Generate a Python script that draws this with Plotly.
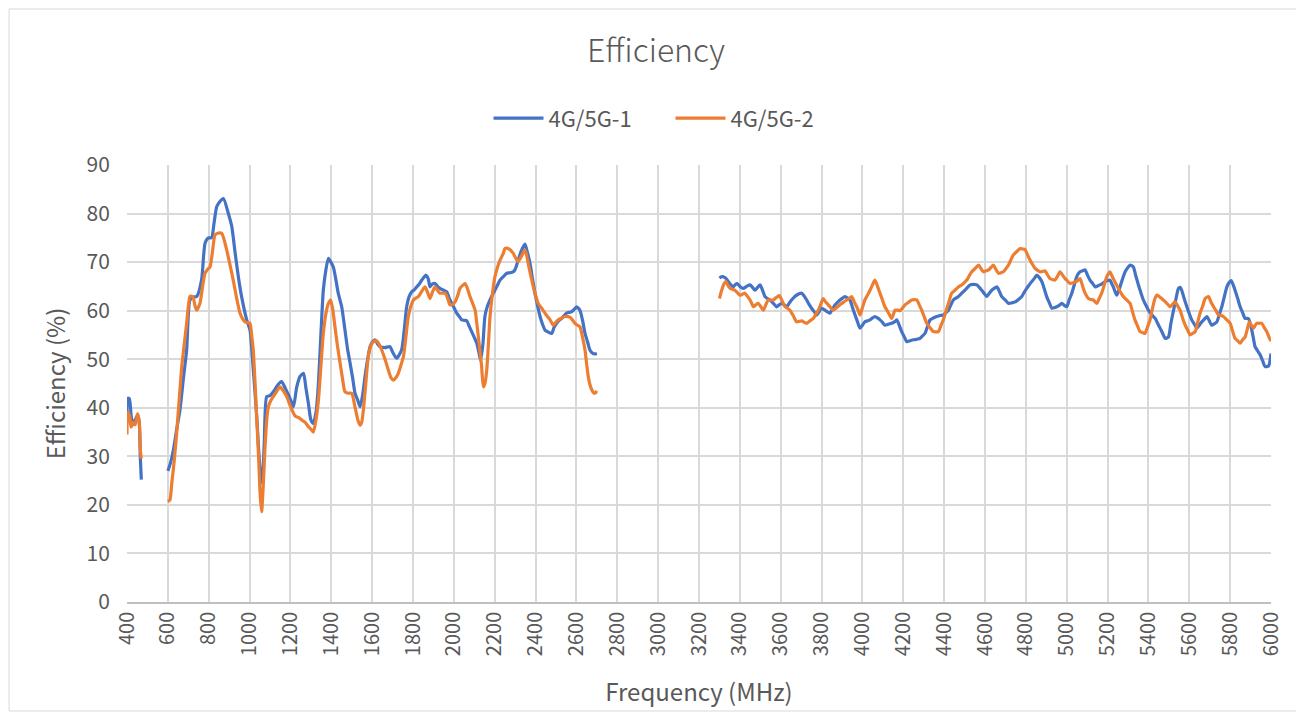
import plotly.graph_objects as go

# ---------------- data (frequency MHz, efficiency %) ----------------
series_names = ["4G/5G-1", "4G/5G-2"]

s1_low = [(400, 37), (405, 42), (412, 41.8), (420, 38.5), (428, 36.5), (440, 37.5), (452, 38.5),
          (460, 37), (465, 30), (470, 25.2)]
s1_mid = [(600, 27), (612, 28.5), (627, 31.3), (643, 35.5), (659, 39.5), (676, 46), (692, 51.9),
          (708, 62.2), (724, 62.8), (741, 62.9), (765, 66.3), (782, 73.9), (798, 75), (814, 75),
          (826, 78), (839, 81.4), (855, 82.5), (872, 83.1), (896, 80), (913, 77.3), (929, 72),
          (945, 67), (961, 62.9), (986, 58.1), (1002, 56), (1018, 48), (1035, 38.2), (1050, 28),
          (1062, 24.5), (1072, 33), (1084, 42.3), (1100, 42.5), (1120, 43.5), (1140, 44.8),
          (1157, 45.4), (1175, 44), (1190, 42.7), (1205, 41.2), (1215, 40.2), (1231, 44.3),
          (1248, 46.5), (1264, 47.1), (1276, 44), (1288, 40.9), (1300, 37.5), (1312, 36.8),
          (1325, 39), (1337, 45), (1349, 55), (1361, 64.2), (1374, 68.5), (1386, 70.8), (1398, 70),
          (1410, 69), (1422, 66.5), (1434, 63.6), (1451, 60.8), (1467, 56), (1480, 52), (1492, 49.2),
          (1505, 46), (1516, 43), (1530, 41.5), (1541, 40.2), (1553, 42.5), (1565, 46.4), (1578, 50),
          (1590, 52.6), (1602, 53.6), (1614, 54), (1626, 53.2), (1638, 52.6), (1663, 52.4),
          (1687, 52.6), (1700, 51.5), (1720, 50.2), (1744, 51.9), (1757, 56), (1769, 60.8),
          (1782, 63), (1794, 63.9), (1806, 64.3), (1818, 64.9), (1831, 65.5), (1843, 66.3),
          (1864, 67.3), (1875, 66.5), (1883, 64.9), (1895, 65.5), (1908, 65.6), (1920, 65),
          (1932, 64.6), (1950, 64.2), (1965, 63.9), (1978, 62.5), (1990, 61.5), (2002, 60.5),
          (2014, 59.5), (2027, 58.8), (2039, 58.1), (2051, 58), (2063, 57.9), (2075, 56.8),
          (2087, 55.7), (2100, 54.5), (2112, 53.3), (2122, 51.5), (2131, 49.8), (2142, 53),
          (2152, 58.8), (2165, 61), (2177, 62.2), (2189, 63.3), (2201, 64.2), (2214, 65.3),
          (2226, 66.3), (2242, 67), (2259, 67.7), (2275, 67.8), (2290, 68), (2299, 68.4),
          (2315, 70.4), (2330, 72.3), (2348, 73.7), (2360, 72), (2373, 69.7), (2385, 66.5),
          (2397, 63.6), (2410, 61), (2422, 58.8), (2434, 57.2), (2446, 56), (2462, 55.6),
          (2479, 55.3), (2490, 56.5), (2503, 57.4), (2515, 58), (2528, 58.4), (2540, 59),
          (2552, 59.5), (2577, 59.8), (2590, 60.3), (2601, 60.8), (2617, 60.1), (2630, 58),
          (2642, 55.3), (2655, 53.5), (2666, 51.9), (2680, 51.2), (2691, 51.1), (2700, 51.2)]
s1_high = [(3300, 66.7), (3310, 67), (3319, 67), (3331, 66.7), (3343, 66), (3356, 65.3), (3368, 64.9),
           (3378, 65.4), (3387, 65.6), (3400, 65), (3417, 64.6), (3433, 65), (3450, 65.3),
           (3462, 64.8), (3474, 64.2), (3487, 64.8), (3499, 65.3), (3511, 64.2), (3523, 62.9),
           (3535, 62.5), (3548, 62.2), (3564, 61.5), (3580, 60.8), (3592, 61.2), (3605, 61.5),
           (3617, 61.2), (3629, 60.8), (3641, 61.5), (3653, 62.2), (3666, 62.8), (3678, 63.2),
           (3690, 63.5), (3703, 63.6), (3715, 63), (3727, 62.2), (3739, 61.3), (3751, 60.5),
           (3764, 59.8), (3776, 59.1), (3788, 59.8), (3800, 60.5), (3820, 60), (3841, 59.5),
           (3853, 60.3), (3866, 61.2), (3878, 61.7), (3890, 62.2), (3903, 62.6), (3915, 62.9),
           (3927, 62.6), (3939, 62.2), (3951, 60.7), (3964, 59.1), (3976, 57.7), (3988, 56.4),
           (4000, 57), (4012, 57.7), (4025, 57.9), (4037, 58.1), (4049, 58.5), (4061, 58.8),
           (4074, 58.5), (4086, 58.1), (4098, 57.6), (4110, 57), (4127, 57.2), (4143, 57.4),
           (4160, 57.8), (4168, 58.1), (4180, 57), (4192, 55.7), (4205, 54.6), (4217, 53.6),
           (4233, 53.8), (4250, 54), (4266, 54.1), (4282, 54.3), (4294, 54.8), (4306, 55.3),
           (4318, 56.7), (4331, 58.1), (4347, 58.5), (4364, 58.8), (4380, 59), (4396, 59.1),
           (4408, 59.6), (4421, 60.1), (4433, 61.2), (4445, 62.2), (4458, 62.6), (4470, 62.9),
           (4482, 63.4), (4494, 63.9), (4510, 64.6), (4527, 65.3), (4543, 65.4), (4560, 65.3),
           (4572, 64.8), (4584, 64.2), (4597, 63.5), (4609, 62.9), (4621, 63.6), (4633, 64.2),
           (4645, 64.6), (4658, 64.9), (4670, 64), (4682, 62.9), (4699, 62.2), (4715, 61.5),
           (4731, 61.6), (4748, 61.8), (4764, 62.3), (4780, 62.9), (4792, 63.8), (4804, 64.6),
           (4816, 65.3), (4829, 66), (4841, 66.6), (4853, 67.3), (4866, 66.8), (4878, 66),
           (4890, 64.5), (4902, 62.9), (4914, 61.7), (4927, 60.5), (4939, 60.6), (4951, 60.8),
           (4963, 61.1), (4976, 61.5), (4988, 61.1), (5000, 60.8), (5012, 62.2), (5025, 63.6),
           (5037, 65.3), (5049, 67), (5065, 68), (5082, 68.3), (5090, 68.4), (5102, 67.3),
           (5114, 66.3), (5127, 65.6), (5139, 64.9), (5151, 65.1), (5163, 65.3), (5175, 65.6),
           (5188, 66), (5200, 66.2), (5212, 66.3), (5220, 65.6), (5228, 64.9), (5236, 64),
           (5245, 63.2), (5253, 64), (5261, 64.9), (5273, 66.5), (5286, 68), (5298, 68.8),
           (5310, 69.4), (5326, 69), (5338, 67.2), (5351, 65.3), (5363, 63.7), (5375, 62.2),
           (5388, 61.1), (5400, 60.1), (5416, 59.2), (5433, 58.4), (5445, 57.4), (5457, 56.4),
           (5470, 55.3), (5482, 54.3), (5498, 54.6), (5510, 57.4), (5523, 60.1), (5535, 62.5),
           (5547, 64.6), (5555, 64.8), (5563, 64.2), (5575, 62.5), (5588, 60.8), (5600, 59.4),
           (5612, 58.1), (5625, 57.2), (5637, 56.4), (5649, 57), (5661, 57.7), (5673, 58.2),
           (5686, 58.8), (5698, 57.9), (5710, 57), (5722, 57.3), (5735, 57.7), (5747, 59.2),
           (5759, 60.8), (5771, 62.8), (5784, 64.9), (5795, 65.8), (5805, 66.2), (5814, 65.4),
           (5824, 64.2), (5837, 62.5), (5849, 60.8), (5861, 59.6), (5873, 58.4), (5889, 58.4),
           (5898, 57.4), (5906, 56), (5914, 54.3), (5922, 52.6), (5935, 51.7), (5947, 50.9),
           (5959, 49.7), (5971, 48.5), (5988, 48.6), (6000, 51.2)]

s2_low = [(400, 34.5), (404, 39), (412, 38.5), (420, 36), (430, 37), (440, 36.5), (452, 38.8),
          (460, 37), (466, 31), (470, 29.5)]
s2_mid = [(600, 20.7), (610, 21), (619, 24.4), (631, 29), (643, 34.7), (656, 42), (668, 48.5),
          (680, 53), (692, 57.4), (708, 62.9), (716, 63), (724, 62.7), (733, 61), (741, 60.1),
          (757, 61.5), (770, 65), (782, 67.7), (794, 68.5), (806, 69), (818, 72), (831, 75.6),
          (848, 76), (864, 75.9), (876, 74.5), (888, 72.5), (904, 69.5), (920, 66.3), (937, 62.5),
          (953, 59.5), (966, 58.3), (978, 57.7), (990, 57.5), (1002, 57.4), (1010, 55), (1018, 51.9),
          (1027, 45), (1035, 38), (1045, 29), (1052, 22), (1059, 18.6), (1067, 24), (1075, 31.3),
          (1084, 37.5), (1092, 40.2), (1104, 41.5), (1116, 42.3), (1132, 43.3), (1149, 44.3),
          (1165, 43.5), (1182, 42.3), (1198, 40.5), (1215, 38.9), (1223, 38.3), (1239, 38),
          (1255, 37.5), (1272, 37), (1288, 36.1), (1300, 35.6), (1312, 35), (1325, 37.5),
          (1337, 41.6), (1349, 48.5), (1361, 55.3), (1374, 59.5), (1386, 61.5), (1397, 62.2),
          (1408, 60), (1418, 56.7), (1430, 52.8), (1443, 49.2), (1455, 46), (1467, 43.3),
          (1483, 43), (1500, 43), (1516, 40.2), (1530, 37.5), (1541, 36.4), (1549, 37),
          (1557, 39.5), (1569, 45), (1581, 50.5), (1594, 52.8), (1606, 53.6), (1622, 53.8),
          (1635, 53), (1647, 51.9), (1663, 50), (1679, 47.8), (1692, 46.2), (1704, 45.7),
          (1716, 46.2), (1728, 47.1), (1741, 48.8), (1753, 50.5), (1765, 54.5), (1777, 58.8),
          (1790, 61), (1802, 62.2), (1814, 62.6), (1826, 62.9), (1843, 64), (1859, 64.9),
          (1871, 63.8), (1883, 62.5), (1895, 63.8), (1908, 64.9), (1920, 64.2), (1932, 63.6),
          (1945, 63.6), (1957, 63.6), (1970, 62.5), (1981, 61.2), (1994, 61.3), (2006, 61.8),
          (2018, 63), (2030, 64.6), (2043, 65.2), (2055, 65.6), (2067, 64.5), (2079, 62.9),
          (2092, 61.5), (2104, 60.1), (2112, 57.5), (2120, 54.6), (2128, 51.5), (2136, 48.5),
          (2144, 44.3), (2152, 45), (2161, 47.8), (2169, 53), (2177, 58.8), (2189, 63.5),
          (2201, 67), (2214, 69), (2226, 70.4), (2242, 71.8), (2250, 72.8), (2266, 72.8),
          (2291, 71.8), (2303, 70.8), (2315, 70.1), (2332, 71.3), (2348, 72.5), (2356, 71.5),
          (2364, 69.7), (2376, 67.3), (2389, 64.9), (2401, 63), (2413, 61.5), (2430, 60.5),
          (2446, 59.5), (2458, 58.8), (2471, 58.1), (2487, 57), (2499, 57.6), (2511, 58.1),
          (2528, 58.5), (2544, 58.8), (2569, 58.6), (2593, 57.4), (2605, 57), (2617, 56.7),
          (2630, 54.5), (2642, 51.9), (2650, 49), (2658, 46.4), (2666, 44.8), (2675, 43.7),
          (2684, 43.1), (2691, 43), (2700, 43.5)]
s2_high = [(3300, 62.5), (3311, 64.2), (3322, 65.5), (3332, 66), (3342, 65.2), (3352, 64.6),
           (3364, 64.4), (3376, 64.2), (3388, 63.7), (3401, 63.2), (3413, 63.4), (3425, 63.6),
           (3438, 62.9), (3450, 62.2), (3458, 61.5), (3466, 60.8), (3478, 61.2), (3490, 61.5),
           (3503, 60.8), (3515, 60.1), (3527, 61.2), (3539, 62.2), (3552, 62.2), (3564, 62.2),
           (3578, 62.7), (3593, 63.1), (3607, 62), (3621, 60.8), (3633, 60.5), (3645, 60.1),
           (3662, 58.9), (3678, 57.7), (3690, 57.8), (3703, 57.9), (3715, 57.6), (3727, 57.4),
           (3743, 57.9), (3760, 58.4), (3772, 59.3), (3784, 60.1), (3796, 61.3), (3808, 62.5),
           (3820, 61.8), (3833, 61.2), (3845, 60.6), (3857, 60.1), (3873, 60.6), (3890, 61.2),
           (3906, 61.7), (3923, 62.2), (3935, 62.5), (3947, 62.9), (3960, 61.8), (3972, 60.8),
           (3980, 60), (3988, 59.1), (4000, 60.6), (4012, 62.2), (4025, 63.2), (4037, 64.2),
           (4049, 65.3), (4061, 66.3), (4074, 65), (4086, 63.6), (4098, 62.2), (4110, 60.8),
           (4127, 59.6), (4143, 58.4), (4160, 60.1), (4172, 60.1), (4184, 60), (4197, 60.6),
           (4209, 61.2), (4225, 61.7), (4241, 62.2), (4266, 62.2), (4278, 61.2), (4290, 60.1),
           (4302, 58.8), (4315, 57.4), (4331, 56.5), (4347, 55.7), (4372, 55.7), (4384, 56.9),
           (4396, 58.1), (4408, 59.8), (4421, 61.5), (4437, 63.6), (4450, 64.1), (4462, 64.6),
           (4474, 65), (4486, 65.3), (4499, 65.8), (4511, 66.3), (4523, 67.2), (4535, 68),
           (4552, 68.7), (4568, 69.4), (4580, 68.7), (4592, 68), (4605, 68.2), (4617, 68.4),
           (4629, 68.9), (4641, 69.4), (4653, 68.5), (4666, 67.7), (4678, 67.8), (4690, 68),
           (4703, 68.7), (4715, 69.4), (4727, 70.5), (4739, 71.5), (4756, 72.2), (4772, 72.8),
           (4784, 72.7), (4796, 72.6), (4808, 71.5), (4821, 70.4), (4833, 69.5), (4845, 68.7),
           (4858, 68.3), (4870, 68), (4882, 68.1), (4894, 68.2), (4906, 67.4), (4918, 66.6),
           (4931, 66.4), (4943, 66.3), (4955, 67.1), (4967, 68), (4980, 67.3), (4992, 66.6),
           (5004, 66.1), (5016, 65.6), (5028, 65.7), (5041, 65.9), (5053, 66.2), (5065, 66.6),
           (5074, 65.6), (5081, 64.6), (5090, 63.6), (5098, 63), (5106, 62.5), (5118, 62.3),
           (5130, 62.2), (5139, 61.8), (5147, 61.5), (5159, 62.5), (5171, 63.6), (5184, 65.3),
           (5196, 67), (5204, 67.6), (5212, 68), (5220, 67.3), (5228, 66.6), (5240, 65.6),
           (5253, 64.6), (5265, 63.7), (5277, 62.9), (5294, 62.2), (5310, 61.5), (5322, 59.8),
           (5334, 58.1), (5346, 56.9), (5359, 55.7), (5371, 55.5), (5383, 55.3), (5396, 56.7),
           (5408, 58.1), (5420, 60.5), (5432, 62.5), (5441, 63.2), (5453, 62.9), (5465, 62.5),
           (5478, 62), (5490, 61.5), (5506, 60.8), (5518, 61.3), (5530, 61.8), (5543, 61),
           (5555, 60.1), (5567, 58.5), (5580, 57), (5592, 56), (5604, 55), (5616, 55.3),
           (5629, 55.7), (5641, 57.6), (5653, 59.5), (5666, 61), (5678, 62.5), (5694, 62.9),
           (5706, 61.8), (5719, 60.8), (5731, 60), (5743, 59.1), (5755, 59), (5767, 58.8),
           (5784, 58.1), (5800, 57.4), (5812, 55.8), (5824, 54.3), (5837, 53.8), (5849, 53.3),
           (5861, 54), (5873, 54.6), (5884, 56.2), (5894, 57.7), (5904, 57), (5914, 56.4),
           (5922, 56.9), (5930, 57.4), (5943, 57.4), (5955, 57.4), (5967, 56.5), (5979, 55.7),
           (5988, 54.8), (5996, 54), (6000, 54)]

x_ticks = list(range(400, 6001, 200))
y_ticks = list(range(0, 91, 10))
colors = ["#4472C4", "#ED7D31"]


def join_segments(segments):
    xs, ys = [], []
    for i, seg in enumerate(segments):
        if i > 0:
            xs.append(None)
            ys.append(None)
        xs += [p[0] for p in seg]
        ys += [p[1] for p in seg]
    return xs, ys


all_series = [[s1_low, s1_mid, s1_high], [s2_low, s2_mid, s2_high]]

FONT = "Noto Sans CJK SC, Noto Sans, sans-serif"
GRAY = "#595959"

fig = go.Figure()
for name, segs, col in zip(series_names, all_series, colors):
    xs, ys = join_segments(segs)
    fig.add_trace(go.Scatter(
        x=xs, y=ys, mode="lines", name=name,
        line=dict(color=col, width=3.2, shape="spline", smoothing=0.6),
        connectgaps=False,
    ))

# page body has an 8px margin: figure is placed at (8, 8)
fig.update_layout(
    width=1296, height=707,
    margin=dict(l=119, r=33, t=157, b=113),
    paper_bgcolor="white", plot_bgcolor="white",
    font=dict(family=FONT, color=GRAY, size=21),
    title=dict(text="Efficiency", x=0.5, xanchor="center", y=0.94, yanchor="middle",
               font=dict(size=32, color=GRAY, family=FONT, weight=300)),
    legend=dict(orientation="h", x=0.316, xanchor="left", y=1.107, yanchor="middle",
                font=dict(size=22, color=GRAY), itemwidth=50, entrywidth=117,
                entrywidthmode="pixels", traceorder="normal"),
    showlegend=True,
)
fig.update_xaxes(
    range=[400, 6000], tickvals=x_ticks, ticktext=[str(v) for v in x_ticks],
    tickangle=-90, showgrid=True, gridcolor="#D9D9D9", gridwidth=1.5,
    showline=True, linecolor="#BFBFBF", linewidth=1.5, zeroline=False,
    tickfont=dict(size=20, color=GRAY),
    title=dict(text="Frequency (MHz)", font=dict(size=24, color=GRAY), standoff=29),
)
fig.update_yaxes(
    range=[0, 90], tickvals=y_ticks, showgrid=True, gridcolor="#D9D9D9", gridwidth=1.5,
    zeroline=False, showline=False, tickfont=dict(size=21, color=GRAY),
    ticks="outside", ticklen=12, tickcolor="rgba(0,0,0,0)",
    title=dict(text="Efficiency (%)", font=dict(size=24, color=GRAY), standoff=14),
)
fig.add_shape(type="rect", xref="paper", yref="paper",
              x0=-0.1031, x1=1.0245, y0=-0.2494, y1=1.357,
              line=dict(color="#D9D9D9", width=1), fillcolor="rgba(0,0,0,0)", layer="below")

fig.write_html("out.html")
